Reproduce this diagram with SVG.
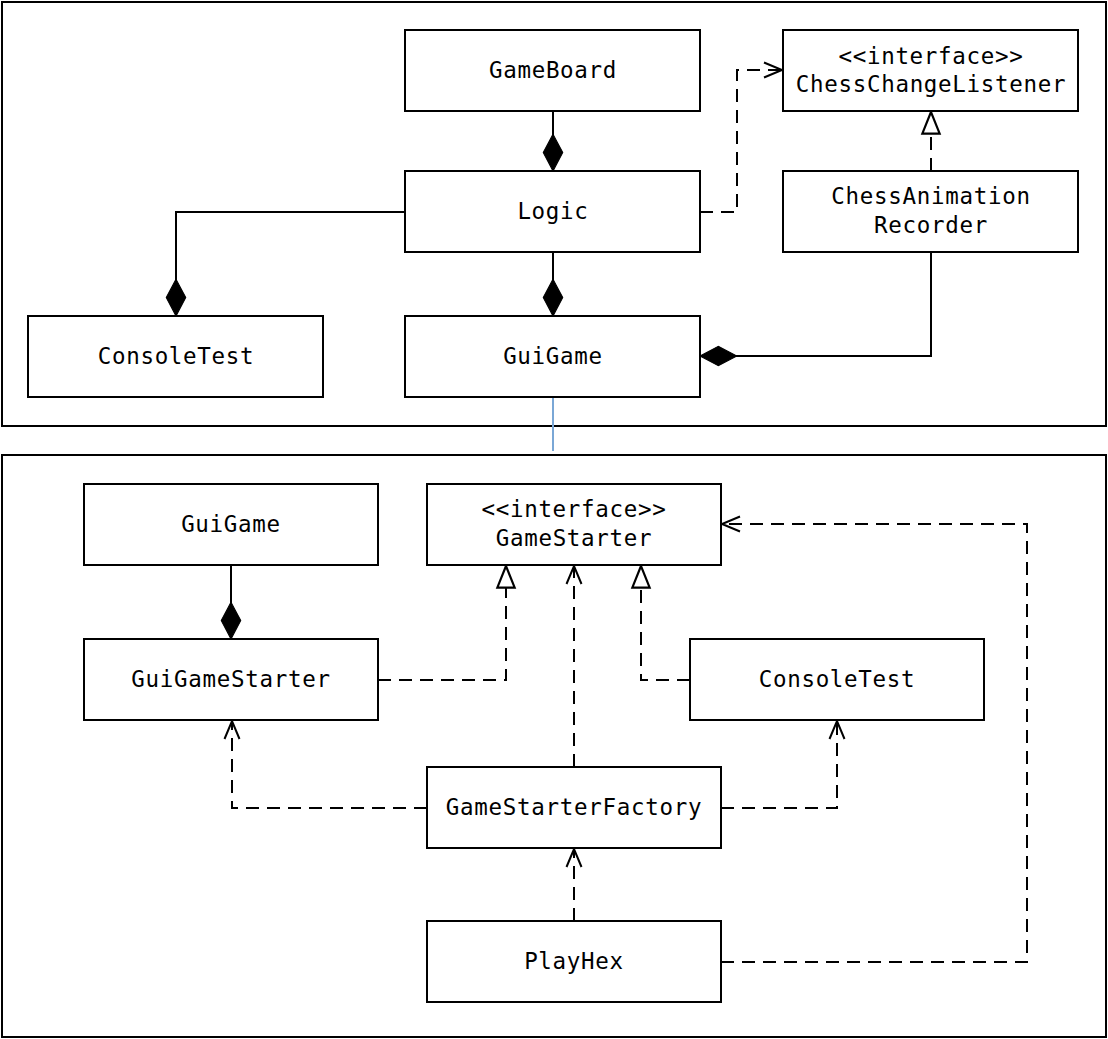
<svg xmlns="http://www.w3.org/2000/svg" width="1108" height="1039" viewBox="0 0 1108 1039">
<style>
.frame{fill:#fff;stroke:#000;stroke-width:2}
.box{fill:#fff;stroke:#000;stroke-width:2}
.lbl{font-family:"DejaVu Sans Mono","Liberation Mono",monospace;font-size:22.5px;letter-spacing:0.7px;text-anchor:middle;fill:#000}
.solid{fill:none;stroke:#000;stroke-width:2}
.dash{fill:none;stroke:#000;stroke-width:2;stroke-dasharray:13 8}
</style>
<defs>
<marker id="diamond" markerUnits="userSpaceOnUse" markerWidth="40" markerHeight="24" viewBox="-1 -11 37 22" refX="34" refY="0" orient="auto">
<path d="M0,0 L17,-9 L34,0 L17,9 Z" fill="#000" stroke="#000" stroke-width="1"/>
</marker>
<marker id="open" markerUnits="userSpaceOnUse" markerWidth="24" markerHeight="22" viewBox="-21 -11 24 22" refX="0" refY="0" orient="auto">
<path d="M-18,-7.5 L0,0 L-18,7.5" fill="none" stroke="#000" stroke-width="2"/>
</marker>
<marker id="tri" markerUnits="userSpaceOnUse" markerWidth="26" markerHeight="22" viewBox="-22 -10 24 20" refX="0" refY="0" orient="auto">
<path d="M0,0 L-20,-8 L-20,8 Z" fill="#fff" stroke="#000" stroke-width="2" stroke-linejoin="miter"/>
</marker>
</defs>
<rect x="0" y="0" width="1108" height="1039" fill="#fff"/>
<rect class="frame" x="2" y="2" width="1104" height="424"/>
<rect class="frame" x="2" y="455" width="1104" height="582"/>

<g id="connectors">
<line x1="553" y1="111" x2="553" y2="171" class="solid" marker-end="url(#diamond)"/>
<line x1="553" y1="252" x2="553" y2="316" class="solid" marker-end="url(#diamond)"/>
<polyline points="405,212 176,212 176,316" class="solid" marker-end="url(#diamond)"/>
<polyline points="700,212 737,212 737,70 782,70" class="dash" marker-end="url(#open)"/>
<line x1="931" y1="171" x2="931" y2="112" class="dash" marker-end="url(#tri)"/>
<polyline points="931,252 931,356 700,356" class="solid" marker-end="url(#diamond)"/>
<line x1="553" y1="397" x2="553" y2="451" stroke="#7aa7d6" stroke-width="2"/>
<line x1="231" y1="565" x2="231" y2="639" class="solid" marker-end="url(#diamond)"/>
<polyline points="378,680 506,680 506,566" class="dash" marker-end="url(#tri)"/>
<polyline points="690,680 641,680 641,566" class="dash" marker-end="url(#tri)"/>
<line x1="574" y1="767" x2="574" y2="566" class="dash" marker-end="url(#open)"/>
<polyline points="427,808 232,808 232,721" class="dash" marker-end="url(#open)"/>
<polyline points="721,808 837,808 837,721" class="dash" marker-end="url(#open)"/>
<line x1="574" y1="921" x2="574" y2="849" class="dash" marker-end="url(#open)"/>
<polyline points="721,962 1027,962 1027,524 722,524" class="dash" marker-end="url(#open)"/>
</g>

<g id="GameBoard"><rect class="box" x="405" y="30" width="295" height="81"/><text class="lbl" x="553" y="78">GameBoard</text></g>
<g id="ChessChangeListener"><rect class="box" x="783" y="30" width="295" height="81"/><text class="lbl" x="931" y="64">&lt;&lt;interface&gt;&gt;</text><text class="lbl" x="931" y="92">ChessChangeListener</text></g>
<g id="Logic"><rect class="box" x="405" y="171" width="295" height="81"/><text class="lbl" x="553" y="219">Logic</text></g>
<g id="ChessAnimationRecorder"><rect class="box" x="783" y="171" width="295" height="81"/><text class="lbl" x="931" y="204">ChessAnimation</text><text class="lbl" x="931" y="233">Recorder</text></g>
<g id="ConsoleTestTop"><rect class="box" x="28" y="316" width="295" height="81"/><text class="lbl" x="176" y="364">ConsoleTest</text></g>
<g id="GuiGameTop"><rect class="box" x="405" y="316" width="295" height="81"/><text class="lbl" x="553" y="364">GuiGame</text></g>

<g id="GuiGame"><rect class="box" x="84" y="484" width="294" height="81"/><text class="lbl" x="231" y="532">GuiGame</text></g>
<g id="GameStarter"><rect class="box" x="427" y="484" width="294" height="81"/><text class="lbl" x="574" y="517">&lt;&lt;interface&gt;&gt;</text><text class="lbl" x="574" y="546">GameStarter</text></g>
<g id="GuiGameStarter"><rect class="box" x="84" y="639" width="294" height="81"/><text class="lbl" x="231" y="687">GuiGameStarter</text></g>
<g id="ConsoleTest"><rect class="box" x="690" y="639" width="294" height="81"/><text class="lbl" x="837" y="687">ConsoleTest</text></g>
<g id="GameStarterFactory"><rect class="box" x="427" y="767" width="294" height="81"/><text class="lbl" x="574" y="815">GameStarterFactory</text></g>
<g id="PlayHex"><rect class="box" x="427" y="921" width="294" height="81"/><text class="lbl" x="574" y="969">PlayHex</text></g>
</svg>
